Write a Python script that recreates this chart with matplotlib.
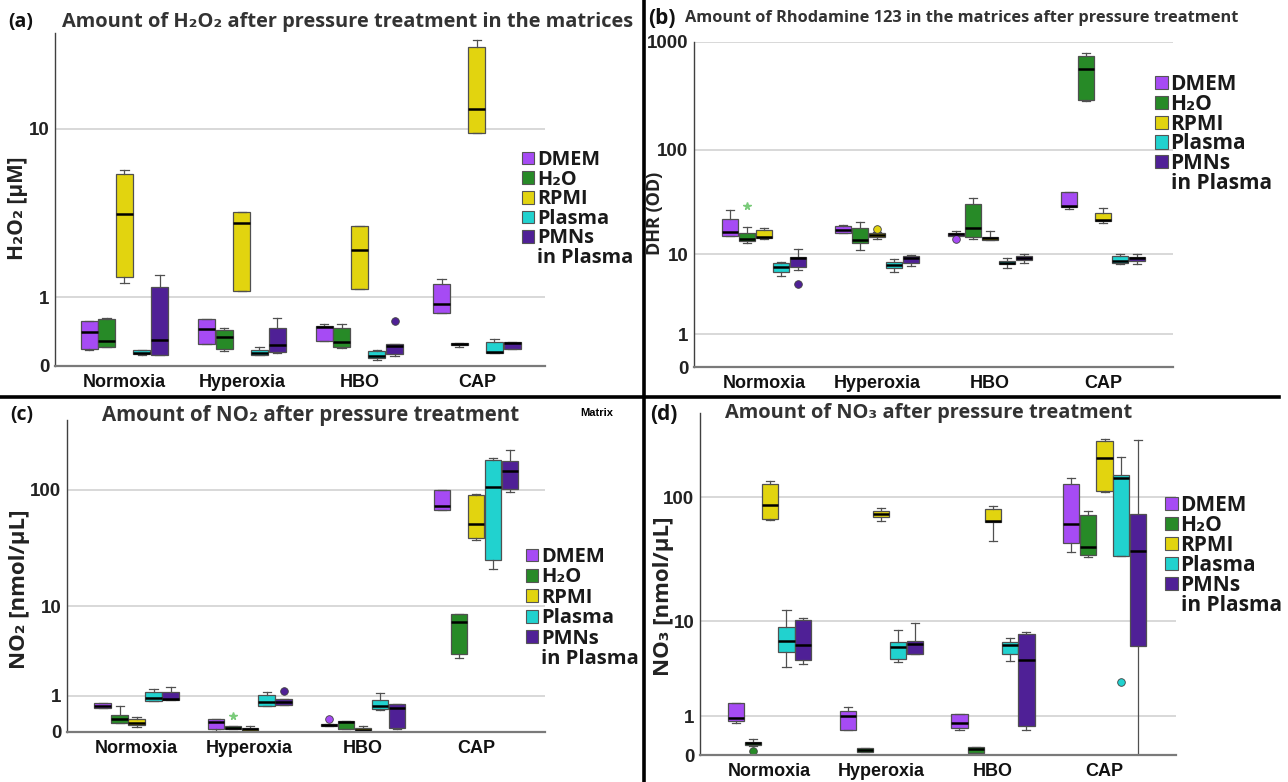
import numpy as np
import matplotlib
matplotlib.use('Agg')
import matplotlib.pyplot as plt
from matplotlib.patches import Patch
from matplotlib.lines import Line2D
from matplotlib.ticker import NullLocator

plt.rcParams['font.family'] = ['Open Sans', 'DejaVu Sans']

W, H = 1288, 782

groups = ['Normoxia', 'Hyperoxia', 'HBO', 'CAP']
series = ['DMEM', 'H₂O', 'RPMI', 'Plasma', 'PMNs']
colors = ['#a64bf4', '#278a27', '#e2d40f', '#21d2cf', '#4f2096']

# box stats per group: (whisker low, q1, median, q3, whisker high)
# (a) H2O2 [uM]
A_DMEM = [(0.18, 0.19, 0.41, 0.575, 0.58), (0.25, 0.25, 0.45, 0.61, 0.61),
          (0.29, 0.29, 0.48, 0.50, 0.53), (0.71, 0.71, 0.87, 1.29, 1.41)]
A_H2O = [(0.21, 0.21, 0.29, 0.607, 0.62), (0.164, 0.187, 0.34, 0.438, 0.47),
         (0.2, 0.21, 0.274, 0.47, 0.53), (0.21, 0.236, 0.25, 0.26, 0.26)]
A_RPMI = [(1.31, 1.46, 3.64, 6.0, 6.24), (1.13, 1.13, 3.24, 3.73, 3.73),
          (1.18, 1.18, 2.22, 3.11, 3.11), (9.5, 9.5, 12.5, 24.1, 25.9)]
A_Plasma = [(0.12, 0.128, 0.14, 0.175, 0.18), (0.117, 0.117, 0.14, 0.175, 0.21),
            (0.06, 0.084, 0.106, 0.164, 0.175), (0.14, 0.14, 0.15, 0.274, 0.31)]
A_PMN = [(0.117, 0.117, 0.30, 1.22, 1.51), (0.14, 0.152, 0.236, 0.47, 0.62),
         (0.106, 0.128, 0.224, 0.249, 0.249), (0.187, 0.187, 0.26, 0.274, 0.274)]
A_out = [(4, 2, 0.575)]          # (series, group, value)
A_star = []

# (b) DHR (OD)
B_DMEM = [(15.1, 15.1, 16.5, 22.1, 27.0), (16.2, 16.2, 17.3, 18.9, 19.4),
          (15.1, 15.1, 15.8, 16.2, 16.9), (27.6, 28.8, 29.5, 40, 40)]
B_H2O = [(12.9, 13.5, 14.1, 16.2, 18.5), (10.97, 12.9, 13.8, 18.1, 20.7),
         (14.1, 14.8, 18.1, 30.8, 35.1), (283, 288, 557, 750, 784)]
B_RPMI = [(14.1, 14.5, 14.8, 17.3, 18.1), (14.1, 14.8, 15.5, 16.2, 16.6),
          (13.8, 13.8, 14.5, 14.8, 16.9), (20.2, 21.2, 21.6, 25.3, 28.2)]
B_Plasma = [(5.9, 6.5, 7.35, 8.1, 8.3), (6.5, 7.17, 7.71, 8.3, 8.89),
            (7.17, 7.9, 8.1, 8.48, 9.1), (7.9, 8.1, 8.48, 9.5, 10)]
B_PMN = [(6.83, 7.35, 9.1, 9.3, 11.2), (7.53, 8.1, 9.1, 9.5, 9.7),
         (8.1, 8.68, 9.1, 9.5, 10), (7.9, 8.48, 9.1, 9.3, 10)]
B_out = [(4, 0, 4.82), (2, 1, 17.7), (0, 2, 14.1)]
B_star = [(1, 0, 29.5)]

# (c) NO2 [nmol/uL]
C_DMEM = [(0.57, 0.589, 0.64, 0.726, 0.74), (0.02, 0.065, 0.21, 0.289, 0.289),
          (0.121, 0.121, 0.143, 0.172, 0.172), (67.4, 67.4, 73.7, 99, 99)]
C_H2O = [(0.18, 0.194, 0.273, 0.373, 0.64), (0.052, 0.052, 0.086, 0.121, 0.121),
         (0.052, 0.052, 0.21, 0.233, 0.233), (3.06, 3.38, 7.16, 8.5, 8.5)]
C_RPMI = [(0.1, 0.135, 0.194, 0.273, 0.339), (0.02, 0.02, 0.052, 0.086, 0.121),
          (0.02, 0.02, 0.039, 0.086, 0.121), (37.6, 39.4, 51.7, 90, 92.8)]
C_Plasma = [(0.803, 0.803, 0.922, 1.154, 1.28), (0.64, 0.64, 0.78, 1.02, 1.154),
            (0.52, 0.54, 0.64, 0.827, 1.087), (21.5, 25.4, 105.6, 178, 184)]
C_PMN = [(0.84, 0.84, 0.88, 1.154, 1.37), (0.67, 0.67, 0.78, 0.86, 0.86),
         (0.065, 0.086, 0.589, 0.693, 0.71), (95.2, 101.6, 142.6, 175, 213)]
C_out = [(4, 1, 1.18), (0, 2, 0.289)]
C_star = [(1, 1, 0.356)]

# (d) NO3 [nmol/uL]
D_DMEM = [(0.78, 0.84, 0.927, 1.52, 1.55), (0.564, 0.564, 1.01, 1.2, 1.36),
          (0.564, 0.611, 0.763, 1.07, 1.07), (37.0, 43.7, 62.1, 127.5, 142)]
D_H2O = [(0.175, 0.189, 0.232, 0.27, 0.34), (0.055, 0.055, 0.094, 0.14, 0.14),
         (0.043, 0.043, 0.107, 0.161, 0.161), (33.6, 34.8, 40.4, 73.2, 77.8)]
D_RPMI = [(66, 66.9, 86.2, 127.5, 133.8), (65.6, 69.8, 74.5, 78.7, 82.6),
          (45.0, 63.7, 65.6, 81.6, 85.1), (109.7, 111.7, 203.6, 274.6, 288)]
D_Plasma = [(3.86, 5.36, 6.69, 8.94, 12.4), (4.28, 4.6, 5.9, 6.6, 8.31),
            (4.38, 5.13, 6.16, 6.6, 7.07), (34.6, 34.6, 142, 150.8, 206)]
D_PMN = [(4.07, 4.44, 6.16, 10.3, 10.7), (5.13, 5.13, 6.33, 6.69, 9.55),
         (0.555, 0.68, 4.44, 7.77, 8.09), (0, 6.03, 37.9, 74.5, 283)]
D_out = [(1, 0, 0.074), (3, 3, 2.72)]
D_star = []


def fwd(y):
    return np.log10(np.clip(y, 0, None) + 1)


def inv(y):
    return 10 ** np.asarray(y) - 1


fig = plt.figure(figsize=(W / 100, H / 100), dpi=100)


def px_axes(l, t, r, b):
    return fig.add_axes([l / W, 1 - b / H, (r - l) / W, (b - t) / H])


def ftext(x, y, s, **kw):
    return fig.text(x / W, 1 - y / H, s, **kw)


def draw_panel(ax, data, fliers, stars, yticks, ytop, xlim):
    ax.set_yscale('function', functions=(fwd, inv))
    step = 0.15
    for j, rows in enumerate(data):
        stats = []
        for g, (lo, q1, med, q3, hi) in enumerate(rows):
            fl = [v for (s, gg, v) in fliers if s == j and gg == g]
            stats.append(dict(whislo=lo, q1=q1, med=med, q3=q3, whishi=hi, fliers=fl))
        pos = np.arange(len(groups)) + (j - 2) * step
        ax.bxp(stats, positions=pos, widths=0.145, patch_artist=True, manage_ticks=False,
               boxprops=dict(facecolor=colors[j], edgecolor='#505050', linewidth=0.9),
               medianprops=dict(color='black', linewidth=1.8),
               whiskerprops=dict(color='#505050', linewidth=0.9),
               capprops=dict(color='#505050', linewidth=0.9),
               flierprops=dict(marker='o', markerfacecolor=colors[j], markeredgecolor='#404040',
                               markersize=5.5, markeredgewidth=0.6))
    for (s, g, v) in stars:
        ax.plot(g + (s - 2) * step, v, marker='*', color='#7acb7a', markersize=5.5, ls='none')
    ax.set_ylim(0, ytop)
    ax.set_xlim(*xlim)
    ax.set_yticks(yticks)
    ax.set_yticklabels([str(t) for t in yticks], fontsize=13.5, fontweight='bold',
                       family='Liberation Sans', color='#222222')
    ax.yaxis.set_minor_locator(NullLocator())
    ax.set_xticks(range(len(groups)))
    ax.set_xticklabels(groups, fontsize=13, fontweight='bold', family='Liberation Sans',
                       color='#111111')
    ax.tick_params(length=0, pad=4)
    ax.tick_params(axis='x', pad=6)
    ax.set_axisbelow(True)
    ax.yaxis.grid(True, color='#d2d2d2', linewidth=1.2)
    for sp in ('top', 'right'):
        ax.spines[sp].set_visible(False)
    ax.spines['left'].set_color('#404040')
    ax.spines['left'].set_linewidth(1.0)
    ax.spines['bottom'].set_color('#7a7a7a')
    ax.spines['bottom'].set_linewidth(1.6)


def add_legend(ax, x, y, size, spacing):
    handles = [Patch(facecolor=c, edgecolor='#555555', linewidth=0.8) for c in colors]
    handles.append(Patch(facecolor='none', edgecolor='none'))
    ax.legend(handles, series + ['in Plasma'], loc='upper left', bbox_to_anchor=(x / W, 1 - y / H),
              bbox_transform=fig.transFigure, frameon=False, handlelength=0.6,
              handleheight=0.6, handletextpad=0.15, labelspacing=spacing, borderpad=0,
              borderaxespad=0, labelcolor='#1a1a1a', prop=dict(size=size, weight='bold'))


# (a)
axA = px_axes(55, 33, 545, 366)
draw_panel(axA, [A_DMEM, A_H2O, A_RPMI, A_Plasma, A_PMN], A_out, A_star,
           [0, 1, 10], 28, (-0.59, 3.58))
add_legend(axA, 522, 150, 14.3, -0.02)

# (b)
axB = px_axes(694, 42, 1173, 367)
draw_panel(axB, [B_DMEM, B_H2O, B_RPMI, B_Plasma, B_PMN], B_out, B_star,
           [0, 1, 10, 100, 1000], 1000, (-0.62, 3.62))
add_legend(axB, 1155, 74, 15, -0.06)

# (c)
axC = px_axes(67, 420, 545, 732)
draw_panel(axC, [C_DMEM, C_H2O, C_RPMI, C_Plasma, C_PMN], C_out, C_star,
           [0, 1, 10, 100], 380, (-0.615, 3.61))
add_legend(axC, 526, 547, 14.5, 0.02)

# (d)
axD = px_axes(700, 413, 1176, 755)
draw_panel(axD, [D_DMEM, D_H2O, D_RPMI, D_Plasma, D_PMN], D_out, D_star,
           [0, 1, 10, 100], 456, (-0.625, 3.64))
add_legend(axD, 1165, 495, 15, -0.05)

# titles, panel letters, y labels
tkw = dict(weight='bold', color='#333333', va='center', ha='left')
ftext(62, 22, 'Amount of H₂O₂ after pressure treatment in the matrices', size=14.4, **tkw)
ftext(685, 18, 'Amount of Rhodamine 123 in the matrices after pressure treatment', size=11.8, **tkw)
ftext(102, 415, 'Amount of NO₂ after pressure treatment', size=14.8, **tkw)
ftext(725, 413, 'Amount of NO₃ after pressure treatment', size=14.4, **tkw)

lkw = dict(weight='bold', color='#111111', va='center', ha='left')
ftext(8, 22, '(a)', size=14, **lkw)
ftext(648, 18, '(b)', size=15, **lkw)
ftext(10, 415, '(c)', size=14, **lkw)
ftext(650, 415, '(d)', size=15, **lkw)
ftext(597, 413, 'Matrix', size=8, weight='bold', family=['Liberation Sans', 'DejaVu Sans'],
      ha='center', va='center')

ykw = dict(weight='bold', color='#222222', rotation=90, ha='center', va='center')
ftext(18, 208, 'H₂O₂ [µM]', size=15, **ykw)
ftext(655, 213, 'DHR (OD)', size=13, **ykw)
ftext(20, 589, 'NO₂ [nmol/µL]', size=16, **ykw)
ftext(663, 596, 'NO₃ [nmol/µL]', size=16, **ykw)

# panel separators
fig.add_artist(Line2D([0, 1279 / W], [1 - 396.5 / H] * 2, color='black', linewidth=2.6))
fig.add_artist(Line2D([643.5 / W] * 2, [0, 1], color='black', linewidth=2.6))

fig.savefig('out.png', dpi=100)
